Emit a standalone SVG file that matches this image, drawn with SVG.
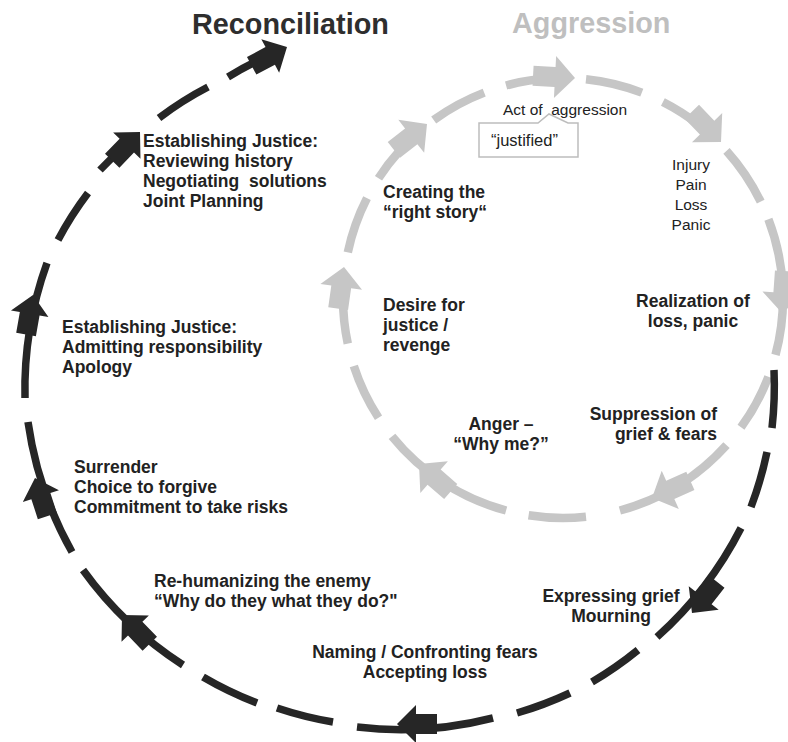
<svg xmlns="http://www.w3.org/2000/svg" xmlns:xlink="http://www.w3.org/1999/xlink" width="788" height="742" viewBox="0 0 788 742">
<defs>
<style>
text{font-family:"Liberation Sans",Arial,sans-serif;fill:#222}
.b{font-weight:bold;font-size:17.5px}
.r{font-size:15.5px}
.m{text-anchor:middle}
.e{text-anchor:end}
.title{font-weight:bold;font-size:28.8px}
.g{fill:none;stroke:#c6c6c6;stroke-width:8.5}
.d{fill:none;stroke:#262626;stroke-width:7.5}
.ga{fill:#c6c6c6}
.da{fill:#262626}
</style>
<path id="ah" d="M0,0 L-20,-21 L-20,-10 L-42,-10 L-42,10 L-20,10 L-20,21 Z"/>
<path id="dh" d="M0,0 L-19,-19 L-19,-10 L-40,-10 L-40,10 L-19,10 L-19,19 Z"/>
</defs>
<rect width="788" height="742" fill="#fff"/>
<g id="connectors">
<g id="aggression-cycle">
<path class="g" d="M433.7,120 A220,220 0 0 1 484.2,92.6"/>
<path class="g" d="M506.1,85.5 A220,220 0 0 1 551.5,78.3"/>
<path class="g" d="M586,79.2 A220,220 0 0 1 641.8,92.6"/>
<path class="g" d="M662.9,102 A220,220 0 0 1 698.5,124.6"/>
<path class="g" d="M726.5,150.8 A220,220 0 0 1 760.7,201.6"/>
<path class="g" d="M768.4,219.2 A220,220 0 0 1 775.5,354.9"/>
<path class="g" d="M768.4,376.8 A220,220 0 0 1 741,427.3"/>
<path class="g" d="M726.5,445.2 A220,220 0 0 1 619.9,510.5"/>
<path class="g" d="M586,516.8 A220,220 0 0 1 528.6,515.3"/>
<path class="g" d="M506.1,510.5 A220,220 0 0 1 392,436.4"/>
<path class="g" d="M378.5,417.8 A220,220 0 0 1 353.8,366"/>
<path class="g" d="M347.8,343.7 A220,220 0 0 1 343,298"/>
<path class="g" d="M347.8,252.3 A220,220 0 0 1 367,198.1"/>
<path class="g" d="M378.5,178.2 A220,220 0 0 1 399.5,150.8"/>
<use href="#ah" xlink:href="#ah" class="ga" transform="translate(575,78) rotate(3)"/>
<use href="#ah" xlink:href="#ah" class="ga" transform="translate(721,142) rotate(46)"/>
<use href="#ah" xlink:href="#ah" class="ga" transform="translate(782,313) rotate(94)"/>
<use href="#ah" xlink:href="#ah" class="ga" transform="translate(652,498) rotate(156)"/>
<use href="#ah" xlink:href="#ah" class="ga" transform="translate(419,464) rotate(221)"/>
<use href="#ah" xlink:href="#ah" class="ga" transform="translate(344,267) rotate(278)"/>
<use href="#ah" xlink:href="#ah" class="ga" transform="translate(427,124) rotate(322)"/>
</g>
<g id="reconciliation-cycle">
<path class="d" d="M774,370 A372,372 0 0 1 772,428"/>
<path class="d" d="M767,452 A372,372 0 0 1 751,507"/>
<path class="d" d="M741,528 A372,372 0 0 1 657,637"/>
<path class="d" d="M638,650 A372,372 0 0 1 592,682"/>
<path class="d" d="M570,693 A372,372 0 0 1 517,713"/>
<path class="d" d="M493,718 A372,372 0 0 1 357,727"/>
<path class="d" d="M333,722 A372,372 0 0 1 277,708"/>
<path class="d" d="M257,703 A372,372 0 0 1 203,677"/>
<path class="d" d="M183,665 A372,372 0 0 1 83,570"/>
<path class="d" d="M72,552 A372,372 0 0 1 28,422"/>
<path class="d" d="M25,398 A372,372 0 0 1 47,263"/>
<path class="d" d="M58,240 A340,340 0 0 1 88,193"/>
<path class="d" d="M100,170 A340,340 0 0 1 125,146"/>
<path class="d" d="M159,118 A340,340 0 0 1 208,87"/>
<path class="d" d="M228,77 A340,340 0 0 1 270,55"/>
<use href="#dh" xlink:href="#dh" class="da" transform="translate(692,613) rotate(128)"/>
<use href="#dh" xlink:href="#dh" class="da" transform="translate(397,724) rotate(180)"/>
<use href="#dh" xlink:href="#dh" class="da" transform="translate(122,615) rotate(226)"/>
<use href="#dh" xlink:href="#dh" class="da" transform="translate(35,478) rotate(252)"/>
<use href="#dh" xlink:href="#dh" class="da" transform="translate(33,295) rotate(280)"/>
<use href="#dh" xlink:href="#dh" class="da" transform="translate(140,132) rotate(-46)"/>
<use href="#dh" xlink:href="#dh" class="da" transform="translate(287,47) rotate(-28)"/>
</g>
</g>
<g id="title-reconciliation"><text class="title" x="192" y="34" style="fill:#2e2e2e">Reconciliation</text></g>
<g id="title-aggression"><text class="title" x="512" y="33" style="fill:#bfbfbf">Aggression</text></g>
<g id="act-of-aggression">
<path d="M479,123 L538,123 L549,114 L568,123 L578,123 L578,157 L479,157 Z" fill="#fff" stroke="#bdbdbd" stroke-width="1.5"/>
<text class="r" x="503" y="115" xml:space="preserve">Act of  aggression</text>
<text class="r" x="491" y="146" style="font-size:16.5px">“justified”</text>
</g>
<g id="injury">
<text class="r m" x="691" y="170">Injury</text>
<text class="r m" x="691" y="190">Pain</text>
<text class="r m" x="691" y="210">Loss</text>
<text class="r m" x="691" y="230">Panic</text>
</g>
<g id="realization">
<text class="b m" x="693" y="307">Realization of</text>
<text class="b m" x="693" y="327">loss, panic</text>
</g>
<g id="suppression">
<text class="b e" x="717" y="420">Suppression of</text>
<text class="b e" x="717" y="440">grief &amp; fears</text>
</g>
<g id="anger">
<text class="b m" x="501" y="430">Anger –</text>
<text class="b m" x="501" y="450">“Why me?”</text>
</g>
<g id="desire">
<text class="b" x="383" y="311">Desire for</text>
<text class="b" x="383" y="331">justice /</text>
<text class="b" x="383" y="351">revenge</text>
</g>
<g id="right-story">
<text class="b" x="383" y="198">Creating the</text>
<text class="b" x="383" y="218">“right story“</text>
</g>
<g id="expressing-grief">
<text class="b m" x="611" y="602">Expressing grief</text>
<text class="b m" x="611" y="622">Mourning</text>
</g>
<g id="naming-fears">
<text class="b m" x="425" y="658">Naming / Confronting fears</text>
<text class="b m" x="425" y="678">Accepting loss</text>
</g>
<g id="rehumanizing">
<text class="b" x="154" y="587">Re-humanizing the enemy</text>
<text class="b" x="154" y="607">“Why do they what they do?"</text>
</g>
<g id="surrender">
<text class="b" x="74" y="473">Surrender</text>
<text class="b" x="74" y="493">Choice to forgive</text>
<text class="b" x="74" y="513">Commitment to take risks</text>
</g>
<g id="justice-admitting">
<text class="b" x="62" y="333">Establishing Justice:</text>
<text class="b" x="62" y="353">Admitting responsibility</text>
<text class="b" x="62" y="373">Apology</text>
</g>
<g id="justice-reviewing">
<text class="b" x="143" y="147">Establishing Justice:</text>
<text class="b" x="143" y="167">Reviewing history</text>
<text class="b" x="143" y="187" xml:space="preserve">Negotiating  solutions</text>
<text class="b" x="143" y="207">Joint Planning</text>
</g>
</svg>
